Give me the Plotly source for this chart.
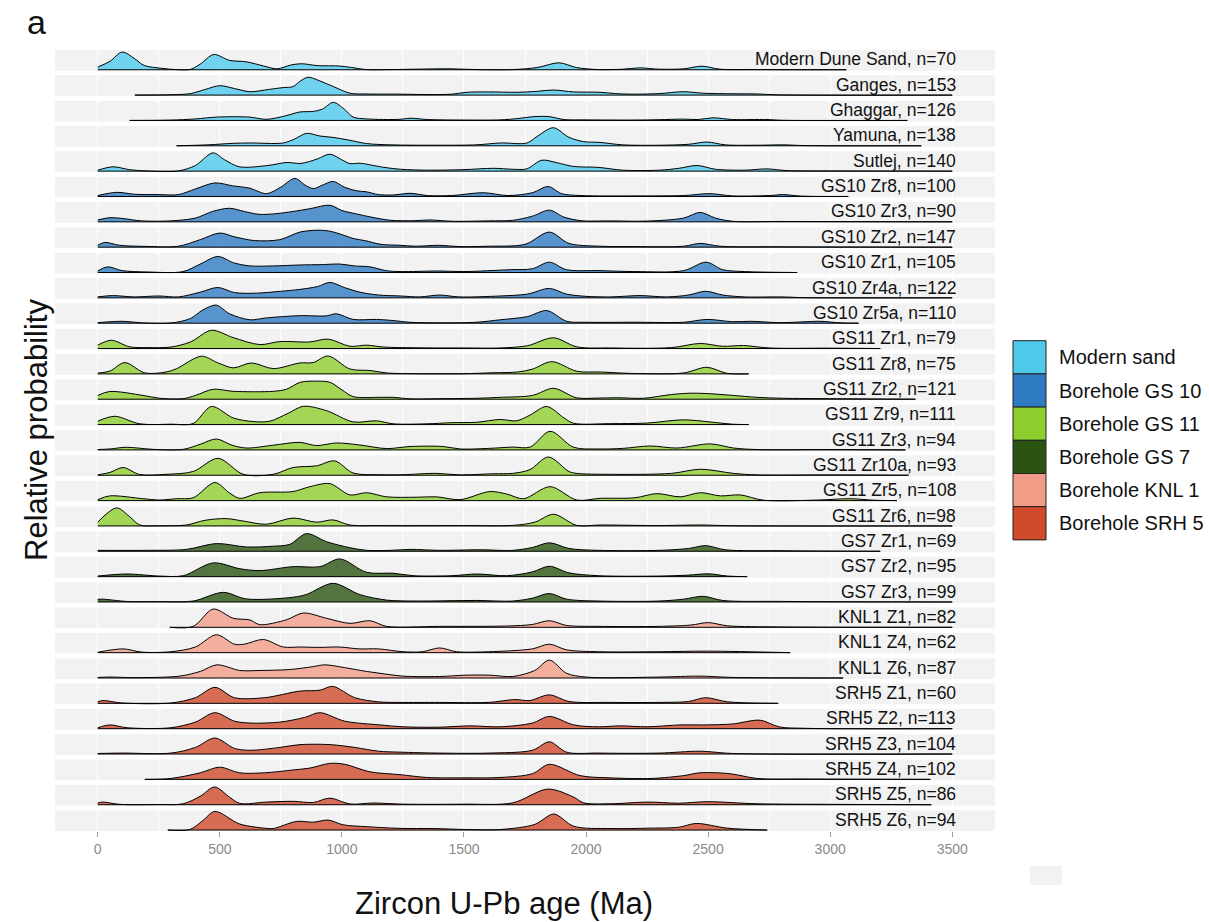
import plotly.graph_objects as go

# ---------------- data (ages in Ma, relative probability) ----------------
sample_names = [
    "Modern Dune Sand", "Ganges", "Ghaggar", "Yamuna", "Sutlej",
    "GS10 Zr8", "GS10 Zr3", "GS10 Zr2", "GS10 Zr1", "GS10 Zr4a", "GS10 Zr5a",
    "GS11 Zr1", "GS11 Zr8", "GS11 Zr2", "GS11 Zr9", "GS11 Zr3", "GS11 Zr10a", "GS11 Zr5", "GS11 Zr6",
    "GS7 Zr1", "GS7 Zr2", "GS7 Zr3",
    "KNL1 Z1", "KNL1 Z4", "KNL1 Z6",
    "SRH5 Z1", "SRH5 Z2", "SRH5 Z3", "SRH5 Z4", "SRH5 Z5", "SRH5 Z6",
]
sample_n = [70, 153, 126, 138, 140,
            100, 90, 147, 105, 122, 110,
            79, 75, 121, 111, 94, 93, 108, 98,
            69, 95, 99,
            82, 62, 87,
            60, 113, 104, 102, 86, 94]
sample_group = (["Modern sand"] * 5 + ["Borehole GS 10"] * 6 + ["Borehole GS 11"] * 8 +
                ["Borehole GS 7"] * 3 + ["Borehole KNL 1"] * 3 + ["Borehole SRH 5"] * 6)

group_names = ["Modern sand", "Borehole GS 10", "Borehole GS 11", "Borehole GS 7",
               "Borehole KNL 1", "Borehole SRH 5"]
group_colors = ["#4DC9EC", "#2F7BC2", "#8FCE2F", "#2B5412", "#F29C88", "#D04A2C"]

x_ticks = [0, 500, 1000, 1500, 2000, 2500, 3000, 3500]

modern_dune_sand = [(0,0.14),(50,0.45),(100,0.94),(150,0.6),(190,0.23),(260,0.08),(320,0.01),(380,0.02),(420,0.3),(475,0.81),(540,0.5),(610,0.42),(680,0.2),(735,0.05),(790,0.25),(835,0.32),(900,0.22),(990,0.2),(1040,0.12),(1100,0.01),(1200,0.01),(1300,0.03),(1443,0.05),(1550,0.01),(1700,0.01),(1800,0.12),(1890,0.37),(1960,0.12),(2050,0.01),(2150,0.03),(2220,0.1),(2300,0.03),(2400,0.05),(2475,0.19),(2550,0.03),(2700,0.01),(3066,0.0)]
ganges = [(152,0.0),(300,0.02),(380,0.08),(440,0.3),(500,0.5),(560,0.35),(623,0.18),(700,0.3),(760,0.4),(800,0.45),(830,0.75),(862,0.95),(910,0.75),(964,0.46),(1033,0.1),(1100,0.06),(1238,0.05),(1350,0.03),(1450,0.05),(1512,0.15),(1600,0.17),(1717,0.15),(1800,0.2),(1865,0.27),(1950,0.17),(2057,0.15),(2120,0.08),(2193,0.05),(2300,0.08),(2398,0.18),(2480,0.1),(2600,0.07),(2700,0.06),(2800,0.01),(3500,0.0)]
ghaggar = [(131,0.0),(300,0.02),(400,0.08),(490,0.18),(620,0.18),(692,0.06),(770,0.25),(828,0.45),(883,0.48),(920,0.6),(965,0.96),(1010,0.6),(1046,0.18),(1102,0.08),(1238,0.06),(1279,0.12),(1350,0.05),(1500,0.02),(1648,0.03),(1720,0.1),(1783,0.2),(1852,0.2),(1906,0.05),(2000,0.03),(2200,0.02),(2300,0.04),(2400,0.07),(2460,0.05),(2520,0.14),(2600,0.05),(2741,0.05),(2800,0.01),(3316,0.0)]
yamuna = [(323,0.0),(450,0.05),(555,0.13),(623,0.15),(760,0.15),(805,0.35),(855,0.66),(910,0.52),(960,0.45),(1030,0.3),(1100,0.12),(1200,0.05),(1400,0.03),(1550,0.05),(1650,0.15),(1758,0.15),(1800,0.5),(1866,0.96),(1930,0.45),(1990,0.22),(2057,0.18),(2150,0.05),(2300,0.03),(2420,0.08),(2496,0.2),(2570,0.05),(2700,0.03),(2808,0.05),(2900,0.01),(3373,0.0)]
sutlej = [(0,0.05),(62,0.23),(130,0.08),(200,0.01),(330,0.01),(400,0.3),(472,0.97),(520,0.6),(580,0.23),(697,0.3),(775,0.46),(833,0.41),(900,0.65),(951,0.9),(1000,0.6),(1033,0.4),(1074,0.42),(1172,0.2),(1240,0.1),(1350,0.05),(1500,0.08),(1620,0.15),(1700,0.1),(1757,0.12),(1819,0.58),(1880,0.45),(1948,0.25),(2050,0.2),(2150,0.05),(2300,0.05),(2380,0.15),(2455,0.3),(2530,0.1),(2650,0.05),(2741,0.12),(2820,0.03),(3000,0.01),(3500,0.0)]
gs10_zr8 = [(0,0.05),(78,0.22),(150,0.12),(250,0.1),(330,0.1),(400,0.4),(480,0.72),(555,0.56),(620,0.45),(692,0.15),(750,0.5),(807,0.96),(850,0.6),(883,0.42),(920,0.6),(964,0.8),(1010,0.5),(1060,0.3),(1100,0.25),(1150,0.1),(1210,0.08),(1279,0.17),(1350,0.05),(1450,0.05),(1579,0.2),(1680,0.05),(1780,0.2),(1845,0.53),(1900,0.15),(1980,0.05),(2200,0.03),(2400,0.05),(2508,0.15),(2600,0.03),(2750,0.05),(2808,0.1),(2880,0.02),(3074,0.0)]
gs10_zr3 = [(0,0.1),(50,0.22),(100,0.18),(180,0.05),(300,0.05),(400,0.2),(470,0.55),(540,0.72),(600,0.55),(660,0.4),(720,0.42),(800,0.55),(870,0.7),(951,0.88),(1000,0.6),(1060,0.42),(1120,0.25),(1200,0.08),(1300,0.06),(1360,0.1),(1450,0.03),(1600,0.05),(1700,0.08),(1780,0.3),(1850,0.62),(1910,0.25),(1980,0.06),(2100,0.05),(2250,0.04),(2400,0.2),(2467,0.5),(2530,0.2),(2600,0.03),(2800,0.02),(3500,0.0)]
gs10_zr2 = [(0,0.1),(29,0.25),(90,0.1),(200,0.04),(330,0.05),(420,0.4),(500,0.75),(560,0.55),(643,0.35),(746,0.4),(828,0.8),(900,0.9),(950,0.85),(992,0.7),(1050,0.45),(1094,0.35),(1160,0.15),(1238,0.1),(1300,0.05),(1400,0.1),(1480,0.03),(1600,0.05),(1750,0.15),(1850,0.8),(1930,0.2),(2057,0.05),(2200,0.03),(2400,0.05),(2467,0.2),(2550,0.05),(2800,0.02),(3500,0.0)]
gs10_zr1 = [(0,0.08),(40,0.3),(100,0.1),(200,0.03),(350,0.05),(420,0.45),(492,0.85),(560,0.5),(623,0.35),(720,0.35),(828,0.4),(920,0.42),(992,0.45),(1050,0.35),(1115,0.3),(1180,0.1),(1238,0.05),(1400,0.08),(1500,0.05),(1690,0.15),(1780,0.2),(1850,0.55),(1920,0.15),(2057,0.1),(2200,0.05),(2400,0.1),(2492,0.55),(2560,0.15),(2650,0.05),(2865,0.0)]
gs10_zr4a = [(0,0.05),(60,0.12),(150,0.05),(250,0.1),(330,0.05),(420,0.3),(492,0.55),(560,0.28),(650,0.25),(750,0.35),(828,0.45),(900,0.6),(951,0.82),(1010,0.55),(1074,0.3),(1150,0.15),(1240,0.1),(1320,0.05),(1400,0.15),(1480,0.05),(1648,0.1),(1760,0.2),(1850,0.5),(1920,0.2),(2000,0.08),(2100,0.05),(2221,0.12),(2330,0.05),(2420,0.15),(2490,0.35),(2560,0.15),(2650,0.05),(2800,0.05),(2900,0.01),(3500,0.0)]
gs10_zr5a = [(0,0.03),(104,0.1),(180,0.02),(300,0.01),(380,0.25),(430,0.7),(486,0.96),(540,0.5),(623,0.18),(690,0.28),(828,0.4),(937,0.39),(978,0.5),(1046,0.2),(1142,0.2),(1210,0.14),(1279,0.05),(1400,0.02),(1550,0.05),(1648,0.18),(1760,0.35),(1839,0.67),(1921,0.1),(2000,0.05),(2200,0.05),(2400,0.05),(2495,0.2),(2600,0.08),(2672,0.1),(2800,0.03),(2959,0.1),(3040,0.02),(3116,0.0)]
gs11_zr1 = [(0,0.18),(56,0.44),(131,0.09),(200,0.05),(300,0.08),(380,0.35),(466,0.97),(555,0.58),(664,0.21),(746,0.37),(869,0.35),(944,0.5),(1033,0.12),(1101,0.18),(1170,0.08),(1300,0.04),(1500,0.03),(1648,0.03),(1760,0.15),(1867,0.57),(1962,0.09),(2100,0.03),(2350,0.05),(2468,0.27),(2560,0.12),(2645,0.16),(2750,0.03),(3000,0.02),(3205,0.0)]
gs11_zr8 = [(0,0.04),(50,0.15),(111,0.6),(193,0.05),(280,0.1),(322,0.27),(425,0.94),(490,0.6),(555,0.32),(630,0.58),(719,0.28),(828,0.58),(882,0.6),(944,0.95),(1033,0.26),(1115,0.18),(1183,0.05),(1300,0.01),(1500,0.01),(1620,0.06),(1720,0.1),(1780,0.25),(1860,0.65),(1962,0.14),(2058,0.1),(2200,0.02),(2400,0.05),(2495,0.35),(2577,0.03),(2666,0.0)]
gs11_zr2 = [(0,0.2),(49,0.41),(186,0.2),(254,0.05),(350,0.03),(400,0.2),(473,0.53),(555,0.42),(719,0.42),(773,0.53),(830,0.9),(900,0.96),(951,0.9),(1000,0.5),(1046,0.14),(1150,0.1),(1210,0.1),(1279,0.02),(1400,0.03),(1550,0.05),(1648,0.1),(1780,0.2),(1867,0.58),(1960,0.08),(2050,0.06),(2126,0.08),(2235,0.05),(2350,0.25),(2427,0.32),(2495,0.3),(2604,0.2),(2700,0.1),(2809,0.05),(3000,0.03),(3349,0.0)]
gs11_zr9 = [(0,0.18),(70,0.44),(172,0.04),(300,0.02),(391,0.06),(466,0.96),(555,0.35),(637,0.16),(705,0.18),(780,0.6),(842,0.97),(937,0.74),(1046,0.14),(1142,0.2),(1210,0.04),(1350,0.04),(1450,0.1),(1550,0.12),(1648,0.27),(1716,0.2),(1770,0.5),(1839,0.96),(1910,0.35),(1949,0.07),(2100,0.05),(2250,0.08),(2399,0.25),(2536,0.1),(2600,0.02),(2666,0.0)]
gs11_zr3 = [(0,0.02),(50,0.05),(117,0.14),(227,0.03),(350,0.03),(420,0.3),(486,0.58),(550,0.25),(609,0.1),(719,0.25),(828,0.4),(896,0.23),(978,0.37),(1074,0.26),(1183,0.07),(1279,0.18),(1415,0.18),(1484,0.05),(1600,0.08),(1700,0.15),(1771,0.15),(1853,0.99),(1949,0.14),(2050,0.05),(2150,0.08),(2263,0.21),(2372,0.1),(2509,0.32),(2604,0.1),(2700,0.02),(3000,0.02),(3308,0.0)]
gs11_zr10a = [(0,0.02),(50,0.15),(104,0.41),(172,0.04),(280,0.05),(391,0.2),(493,0.9),(596,0.05),(719,0.05),(800,0.41),(896,0.5),(971,0.76),(1046,0.12),(1150,0.03),(1250,0.03),(1388,0.1),(1480,0.02),(1620,0.08),(1700,0.1),(1770,0.3),(1846,0.97),(1930,0.2),(1962,0.1),(2100,0.05),(2350,0.1),(2468,0.32),(2604,0.1),(2700,0.02),(3000,0.02),(3321,0.0)]
gs11_zr5 = [(0,0.05),(49,0.25),(186,0.1),(254,0.03),(322,0.1),(391,0.15),(480,0.96),(540,0.4),(582,0.12),(664,0.42),(800,0.48),(869,0.74),(951,0.9),(1033,0.3),(1101,0.42),(1183,0.2),(1306,0.18),(1388,0.2),(1484,0.05),(1606,0.48),(1675,0.35),(1744,0.1),(1853,0.74),(1962,0.03),(2058,0.12),(2200,0.15),(2290,0.37),(2386,0.2),(2468,0.42),(2550,0.25),(2632,0.3),(2727,0.02),(2950,0.03),(3082,0.1),(3180,0.02),(3273,0.0)]
gs11_zr6 = [(0,0.2),(77,0.96),(130,0.5),(172,0.05),(250,0.01),(363,0.05),(440,0.3),(527,0.39),(600,0.25),(691,0.09),(800,0.42),(896,0.2),(964,0.32),(1033,0.05),(1150,0.02),(1500,0.02),(1700,0.03),(1790,0.2),(1867,0.62),(1962,0.03),(2058,0.05),(2300,0.02),(2468,0.05),(2600,0.01),(3500,0.0)]
gs7_zr1 = [(0,0.05),(200,0.05),(363,0.1),(486,0.41),(609,0.23),(719,0.27),(787,0.37),(855,0.94),(937,0.51),(1033,0.19),(1101,0.05),(1200,0.05),(1279,0.1),(1400,0.05),(1566,0.08),(1700,0.05),(1780,0.2),(1850,0.45),(1930,0.15),(2050,0.05),(2300,0.05),(2420,0.15),(2490,0.3),(2570,0.08),(2800,0.03),(3205,0.0)]
gs7_zr2 = [(0,0.03),(117,0.14),(254,0.03),(350,0.05),(473,0.73),(582,0.42),(664,0.32),(800,0.53),(910,0.53),(992,0.94),(1101,0.23),(1210,0.18),(1292,0.05),(1450,0.05),(1552,0.14),(1675,0.05),(1780,0.25),(1850,0.55),(1930,0.2),(2050,0.05),(2300,0.03),(2420,0.08),(2500,0.15),(2580,0.03),(2660,0.0)]
gs7_zr3 = [(0,0.14),(22,0.15),(117,0.03),(250,0.02),(391,0.05),(514,0.51),(609,0.16),(800,0.25),(855,0.4),(964,0.99),(1074,0.39),(1183,0.1),(1300,0.05),(1552,0.08),(1700,0.05),(1780,0.2),(1850,0.45),(1920,0.15),(2050,0.05),(2300,0.05),(2400,0.15),(2480,0.3),(2560,0.08),(2800,0.03),(3500,0.0)]
knl1_z1 = [(295,0.0),(391,0.05),(473,0.97),(555,0.48),(623,0.39),(664,0.14),(773,0.4),(842,0.76),(937,0.48),(1033,0.21),(1115,0.35),(1183,0.05),(1400,0.05),(1675,0.07),(1780,0.15),(1850,0.35),(1920,0.1),(2050,0.05),(2300,0.05),(2430,0.12),(2500,0.25),(2580,0.08),(2800,0.02),(3500,0.0)]
knl1_z4 = [(0,0.02),(104,0.2),(180,0.03),(300,0.05),(400,0.3),(486,0.95),(560,0.45),(600,0.45),(678,0.7),(760,0.3),(830,0.3),(910,0.28),(990,0.3),(1070,0.2),(1150,0.2),(1250,0.05),(1330,0.05),(1400,0.25),(1470,0.05),(1600,0.05),(1780,0.2),(1850,0.45),(1920,0.15),(2050,0.05),(2300,0.05),(2500,0.08),(2836,0.0)]
knl1_z6 = [(0,0.03),(50,0.05),(150,0.02),(336,0.1),(420,0.35),(488,0.7),(582,0.4),(664,0.4),(787,0.45),(880,0.6),(930,0.7),(1012,0.55),(1100,0.35),(1156,0.25),(1250,0.1),(1400,0.08),(1504,0.15),(1607,0.15),(1700,0.08),(1790,0.4),(1850,0.95),(1920,0.25),(2000,0.05),(2300,0.05),(2467,0.1),(2600,0.03),(3053,0.0)]
srh5_z1 = [(0,0.08),(20,0.15),(100,0.02),(300,0.02),(400,0.3),(480,0.85),(560,0.3),(684,0.3),(828,0.65),(910,0.7),(963,0.9),(1053,0.3),(1150,0.08),(1238,0.05),(1400,0.05),(1600,0.05),(1709,0.2),(1770,0.15),(1850,0.45),(1930,0.1),(2100,0.05),(2300,0.05),(2420,0.1),(2490,0.3),(2580,0.08),(2787,0.0)]
srh5_z2 = [(0,0.05),(50,0.2),(120,0.05),(300,0.05),(400,0.35),(480,0.85),(560,0.4),(623,0.3),(746,0.35),(848,0.6),(910,0.85),(1012,0.4),(1156,0.2),(1250,0.1),(1400,0.08),(1525,0.15),(1648,0.1),(1780,0.3),(1850,0.65),(1950,0.2),(2050,0.1),(2140,0.15),(2250,0.1),(2385,0.2),(2480,0.2),(2600,0.25),(2713,0.45),(2790,0.1),(2900,0.02),(3500,0.0)]
srh5_z3 = [(0,0.03),(100,0.05),(300,0.05),(400,0.35),(480,0.85),(560,0.3),(623,0.2),(746,0.35),(828,0.5),(951,0.5),(1053,0.35),(1150,0.15),(1238,0.1),(1400,0.05),(1600,0.05),(1780,0.2),(1850,0.65),(1920,0.1),(2050,0.05),(2300,0.05),(2467,0.15),(2600,0.03),(3500,0.0)]
srh5_z4 = [(193,0.0),(300,0.05),(420,0.35),(500,0.65),(580,0.35),(684,0.35),(800,0.5),(869,0.6),(951,0.85),(1012,0.8),(1115,0.4),(1238,0.25),(1350,0.1),(1500,0.08),(1648,0.1),(1780,0.3),(1850,0.8),(1975,0.2),(2100,0.08),(2270,0.05),(2400,0.2),(2467,0.35),(2590,0.3),(2700,0.05),(2900,0.02),(3410,0.0)]
srh5_z5 = [(0,0.09),(21,0.14),(90,0.02),(250,0.01),(350,0.05),(420,0.45),(479,0.94),(540,0.4),(582,0.07),(691,0.14),(801,0.18),(883,0.12),(951,0.35),(1033,0.04),(1128,0.09),(1250,0.03),(1500,0.03),(1700,0.1),(1844,0.83),(1950,0.4),(1990,0.1),(2100,0.05),(2254,0.14),(2380,0.08),(2496,0.16),(2700,0.05),(3000,0.02),(3414,0.0)]
srh5_z6 = [(287,0.0),(377,0.03),(430,0.5),(480,0.99),(582,0.32),(691,0.09),(719,0.08),(815,0.46),(883,0.42),(944,0.53),(1005,0.28),(1101,0.18),(1238,0.09),(1374,0.08),(1511,0.03),(1650,0.03),(1790,0.3),(1868,0.85),(1950,0.2),(2102,0.08),(2254,0.1),(2380,0.15),(2451,0.35),(2580,0.1),(2742,0.0)]

sample_curves = [modern_dune_sand, ganges, ghaggar, yamuna, sutlej,
                 gs10_zr8, gs10_zr3, gs10_zr2, gs10_zr1, gs10_zr4a, gs10_zr5a,
                 gs11_zr1, gs11_zr8, gs11_zr2, gs11_zr9, gs11_zr3, gs11_zr10a, gs11_zr5, gs11_zr6,
                 gs7_zr1, gs7_zr2, gs7_zr3,
                 knl1_z1, knl1_z4, knl1_z6,
                 srh5_z1, srh5_z2, srh5_z3, srh5_z4, srh5_z5, srh5_z6]

# ---------------- layout constants ----------------
W, H = 1209, 922
ML, MR, MT, MB = 55, 214, 50, 91
PITCH = 1.3466          # row spacing in y units (strip height = 1.1 units)
FONT = "Liberation Sans, Arial, Helvetica, sans-serif"
nrows = len(sample_names)


def hex_rgba(h, a):
    h = h.lstrip("#")
    return "rgba(%d,%d,%d,%.2f)" % (int(h[0:2], 16), int(h[2:4], 16), int(h[4:6], 16), a)


def px_to_paper_x(px):
    return (px - ML) / (W - ML - MR)


def px_to_paper_y(py):
    return (H - MB - py) / (H - MT - MB)


fig = go.Figure()
shapes = []
annotations = []

for k, (name, n, grp, pts) in enumerate(zip(sample_names, sample_n, sample_group, sample_curves)):
    base = (nrows - 1 - k) * PITCH
    color = group_colors[group_names.index(grp)]
    xs = [p[0] for p in pts]
    ys = [base + p[1] for p in pts]
    # strip background
    shapes.append(dict(type="rect", xref="paper", yref="y", x0=0, x1=1,
                       y0=base - 0.05, y1=base + 1.05, fillcolor="#F2F2F2",
                       line=dict(width=0), layer="below"))
    # baseline
    fig.add_trace(go.Scatter(x=[xs[0], xs[-1]], y=[base, base], mode="lines",
                             line=dict(color="black", width=1), hoverinfo="skip",
                             showlegend=False))
    # density ridge
    fig.add_trace(go.Scatter(x=xs, y=ys, mode="lines", fill="tonexty",
                             fillcolor=hex_rgba(color, 0.8),
                             line=dict(color="black", width=1, shape="spline", smoothing=0.9),
                             name=name, showlegend=False))
    annotations.append(dict(x=3522, y=base + 0.55, xref="x", yref="y",
                            text="%s, n=%d" % (name, n), showarrow=False,
                            xanchor="right", yanchor="middle",
                            font=dict(family=FONT, size=17.5, color="#111111")))

# manual legend
leg_top = 340.7
leg_h = 33.2
for i, (g, c) in enumerate(zip(group_names, group_colors)):
    y0 = leg_top + i * leg_h
    shapes.append(dict(type="rect", xref="paper", yref="paper",
                       x0=px_to_paper_x(1013), x1=px_to_paper_x(1046),
                       y0=px_to_paper_y(y0 + leg_h), y1=px_to_paper_y(y0),
                       fillcolor=c, line=dict(color="#222222", width=1)))
    annotations.append(dict(x=px_to_paper_x(1057), y=px_to_paper_y(y0 + leg_h / 2),
                            xref="paper", yref="paper", text=g, showarrow=False,
                            xanchor="left", yanchor="middle",
                            font=dict(family=FONT, size=20, color="#111111")))

# small grey patch at the lower right
shapes.append(dict(type="rect", xref="paper", yref="paper",
                   x0=px_to_paper_x(1030), x1=px_to_paper_x(1062),
                   y0=px_to_paper_y(885), y1=px_to_paper_y(866),
                   fillcolor="#F2F2F2", line=dict(width=0)))

# titles
annotations.append(dict(x=px_to_paper_x(36), y=px_to_paper_y(430), xref="paper", yref="paper",
                        text="Relative probability", textangle=-90, showarrow=False,
                        xanchor="center", yanchor="middle",
                        font=dict(family=FONT, size=31, color="#111111")))
annotations.append(dict(x=px_to_paper_x(504), y=px_to_paper_y(903), xref="paper", yref="paper",
                        text="Zircon U-Pb age (Ma)", showarrow=False,
                        xanchor="center", yanchor="middle",
                        font=dict(family=FONT, size=31, color="#111111")))
annotations.append(dict(x=px_to_paper_x(36), y=px_to_paper_y(22), xref="paper", yref="paper",
                        text="a", showarrow=False, xanchor="center", yanchor="middle",
                        font=dict(family=FONT, size=34, color="#111111")))

fig.update_layout(
    width=W, height=H,
    margin=dict(l=ML, r=MR, t=MT, b=MB),
    paper_bgcolor="white", plot_bgcolor="white",
    shapes=shapes, annotations=annotations,
    showlegend=False,
    font=dict(family=FONT),
    xaxis=dict(range=[-175, 3675], tickvals=x_ticks, ticktext=[str(t) for t in x_ticks],
               ticks="outside", ticklen=5, tickwidth=1, tickcolor="#999999",
               tickfont=dict(family=FONT, size=14, color="#8a8a8a"),
               showgrid=True, gridcolor="white", gridwidth=1.3,
               minor=dict(dtick=250, tick0=0, showgrid=True, gridcolor="white", gridwidth=0.6),
               zeroline=False, showline=False, fixedrange=True),
    yaxis=dict(range=[-0.05, (nrows - 1) * PITCH + 1.05], showgrid=False, zeroline=False,
               showticklabels=False, ticks="", showline=False, fixedrange=True),
)

fig.write_html("out.html")
